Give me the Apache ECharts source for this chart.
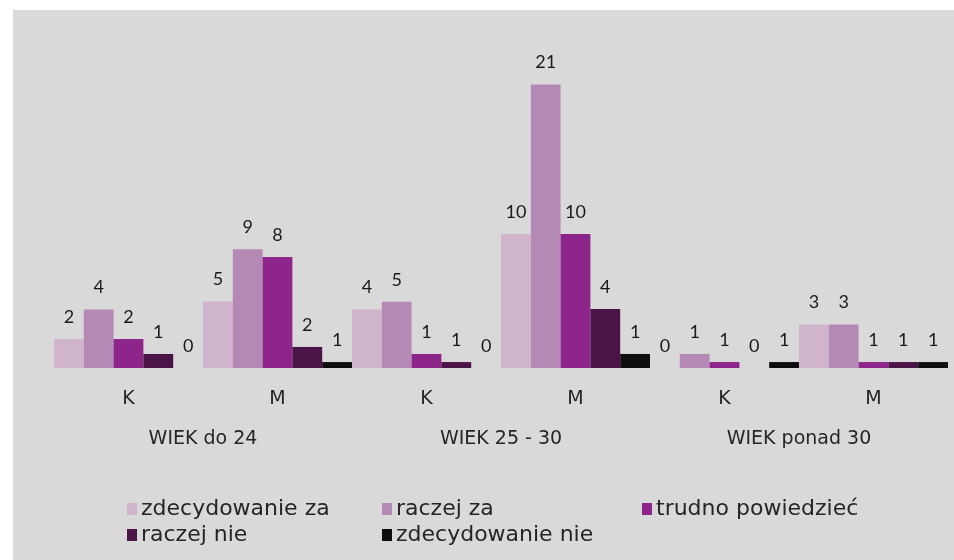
<!DOCTYPE html>
<html>
<head>
<meta charset="utf-8">
<script src="https://cdn.jsdelivr.net/npm/echarts@6/dist/echarts.min.js"></script>
<style>
  html, body { margin: 0; padding: 0; background: #ffffff; }
  #chart { width: 954px; height: 560px; }
</style>
</head>
<body>
<div id="chart"></div>
<script>
// Categories (gender within age group) and age groups
const categories = ['K', 'M', 'K', 'M', 'K', 'M'];
const ageGroups = ['WIEK do 24', 'WIEK 25 - 30', 'WIEK ponad 30'];
const seriesNames = ['zdecydowanie za', 'raczej za', 'trudno powiedzieć', 'raczej nie', 'zdecydowanie nie'];

// Bar heights as drawn
const zdecydowanieZa   = [2.15, 4.93, 4.34, 9.93, 0,    3.23];
const raczejZa         = [4.34, 8.79, 4.91, 21.0, 1.04, 3.23];
const trudnoPowiedziec = [2.15, 8.22, 1.04, 9.93, 0.44, 0.44];
const raczejNie        = [1.04, 1.56, 0.44, 4.37, 0,    0.44];
const zdecydowanieNie  = [0,    0.44, 0,    1.04, 0.44, 0.44];

// Data labels (counts) as printed above the bars
const zdecydowanieZaLabels   = [2, 5, 4, 10, 0, 3];
const raczejZaLabels         = [4, 9, 5, 21, 1, 3];
const trudnoPowiedziecLabels = [2, 8, 1, 10, 1, 1];
const raczejNieLabels        = [1, 2, 1, 4, 0, 1];
const zdecydowanieNieLabels  = [0, 1, 0, 1, 1, 1];

const values = [zdecydowanieZa, raczejZa, trudnoPowiedziec, raczejNie, zdecydowanieNie];
const labels = [zdecydowanieZaLabels, raczejZaLabels, trudnoPowiedziecLabels, raczejNieLabels, zdecydowanieNieLabels];
const colors = ['#cfb4cc', '#b489b3', '#8e258a', '#4a1446', '#0e0e0e'];

const chart = echarts.init(document.getElementById('chart'), null, { renderer: 'canvas' });

const series = seriesNames.map((name, i) => ({
  name: name,
  type: 'bar',
  xAxisIndex: 0,
  yAxisIndex: 0,
  barGap: '0%',
  barCategoryGap: '0%',
  data: values[i],
  itemStyle: { color: colors[i] },
  label: {
    show: true,
    position: 'top',
    distance: 13,
    color: '#1a1a1a',
    fontFamily: 'Lato',
    fontSize: 18,
    formatter: (p) => String(labels[i][p.dataIndex])
  },
  emphasis: { disabled: true },
  animation: false
}));

const legendPos = [
  { left: 127, top: 498 },
  { left: 382, top: 498 },
  { left: 642, top: 498 },
  { left: 127, top: 524 },
  { left: 382, top: 524 }
];

const legends = seriesNames.map((name, i) => ({
  data: [name],
  left: legendPos[i].left,
  top: legendPos[i].top,
  itemWidth: 10,
  itemHeight: 12,
  itemGap: 0,
  padding: 0,
  selectedMode: false,
  icon: 'rect',
  textStyle: { fontFamily: 'DejaVu Sans', fontSize: 22, color: '#262626', padding: [0, 0, 0, -1] }
}));

chart.setOption({
  backgroundColor: '#ffffff',
  animation: false,
  graphic: [{
    type: 'rect',
    left: 13, top: 10,
    z: -100,
    shape: { width: 941, height: 550 },
    style: { fill: '#d9d9d9' },
    silent: true
  }],
  legend: legends,
  grid: { left: 54, right: 6, top: 71, bottom: 192, containLabel: false },
  xAxis: [
    {
      type: 'category',
      data: categories,
      position: 'bottom',
      axisLine: { show: false },
      axisTick: { show: false },
      axisLabel: { margin: 22, fontFamily: 'DejaVu Sans', fontSize: 19, color: '#262626' }
    },
    {
      type: 'category',
      data: ageGroups,
      position: 'bottom',
      axisLine: { show: false },
      axisTick: { show: false },
      axisLabel: { margin: 62, fontFamily: 'DejaVu Sans', fontSize: 19, color: '#262626' }
    }
  ],
  yAxis: {
    type: 'value',
    min: 0,
    max: 22,
    show: false,
    splitLine: { show: false }
  },
  series: series
});
</script>
</body>
</html>
